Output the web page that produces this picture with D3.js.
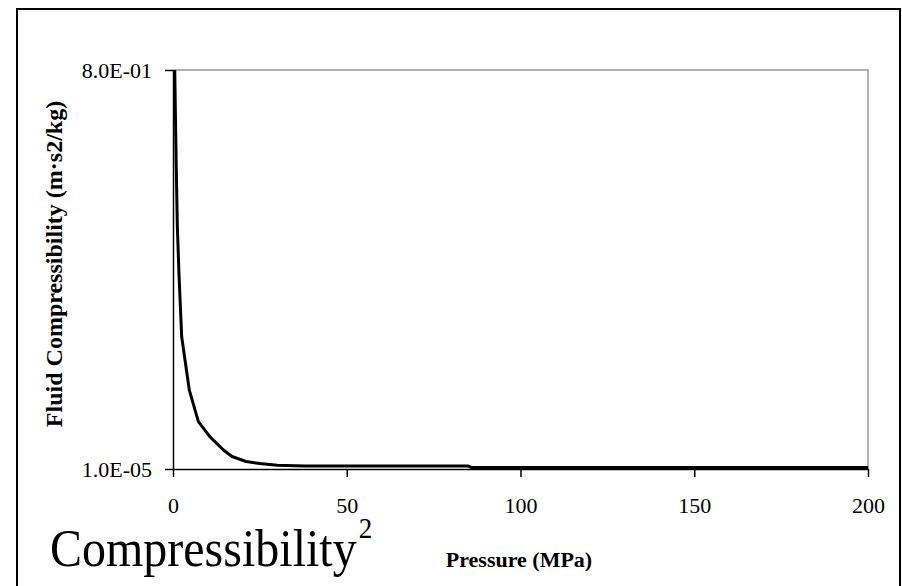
<!DOCTYPE html>
<html>
<head>
<meta charset="utf-8">
<script src="https://cdn.jsdelivr.net/npm/d3@7"></script>
<style>
  body { margin: 0; background: #fff; }
  text { font-family: "Times New Roman", "Liberation Serif", serif; fill: #000; }
</style>
</head>
<body>
<svg id="chart" width="902" height="586"></svg>
<script>
// pressure (MPa) vs fluid compressibility
var pressure = [0.5, 0.9, 1.25, 1.75, 2.5, 4.7, 7.3, 10.6, 14.5, 17, 21, 25, 30, 38, 85, 86, 200];
var compress = [0.8, 0.62, 0.486, 0.386, 0.265, 0.158, 0.095, 0.065, 0.038, 0.025, 0.015, 0.011, 0.0075, 0.006, 0.006, 0.003, 0.003];
var xTicks = [0, 50, 100, 150, 200];
var yTicks = [1e-5, 0.8];
var yTickLabels = ["1.0E-05", "8.0E-01"];

var margin = {top: 70, left: 173, right: 34, bottom: 117};
var width = 902, height = 586;
var w = width - margin.left - margin.right;
var h = height - margin.top - margin.bottom;

var data = pressure.map((p, i) => ({x: p, y: compress[i]}));

var svg = d3.select("#chart");

/* outer frame */
svg.append("rect")
    .attr("x", 17).attr("y", 9)
    .attr("width", 883).attr("height", 600)
    .attr("fill", "none")
    .attr("stroke", "#000")
    .attr("stroke-width", 2);

var g = svg.append("g")
    .attr("transform", "translate(" + margin.left + "," + margin.top + ")");

var xScale = d3.scaleLinear().domain([0, 200]).range([0, w]);
var yScale = d3.scaleLinear().domain([1e-5, 0.8]).range([h, 0]);

/* plot area border (top / right in gray) */
g.append("path")
    .attr("d", "M0,0H" + w + "V" + h)
    .attr("fill", "none")
    .attr("stroke", "#999")
    .attr("stroke-width", 1.5);

var xAx = g.append("g")
    .attr("transform", "translate(0," + h + ")")
    .call(d3.axisBottom(xScale).tickValues(xTicks).tickSize(8).tickSizeOuter(0).tickPadding(20));

var yAx = g.append("g")
    .call(d3.axisLeft(yScale).tickValues(yTicks)
        .tickFormat((d, i) => yTickLabels[i])
        .tickSize(8).tickSizeOuter(0).tickPadding(13));

[xAx, yAx].forEach(a => {
    a.attr("font-family", null).attr("font-size", null);
    a.selectAll("path.domain").attr("stroke", "#000").attr("stroke-width", 1.5);
    a.selectAll(".tick line").attr("stroke", "#000").attr("stroke-width", 1.5);
    a.selectAll(".tick text")
        .attr("fill", "#000")
        .style("font-family", '"Times New Roman", "Liberation Serif", serif')
        .style("font-size", "22px");
});

/* the curve */
var line = d3.line()
    .x(d => xScale(d.x))
    .y(d => yScale(d.y));

g.append("path")
    .datum(data)
    .attr("d", line)
    .attr("fill", "none")
    .attr("stroke", "#000")
    .attr("stroke-width", 3)
    .attr("stroke-linejoin", "round");

/* axis titles */
svg.append("text")
    .attr("text-anchor", "middle")
    .attr("font-weight", "bold")
    .attr("font-size", 24)
    .attr("transform", "translate(62,264) rotate(-90)")
    .text("Fluid Compressibility (m·s2/kg)");

svg.append("text")
    .attr("x", 519)
    .attr("y", 567)
    .attr("text-anchor", "middle")
    .attr("font-weight", "bold")
    .attr("font-size", 22)
    .text("Pressure (MPa)");

/* slide caption */
var cap = svg.append("text")
    .attr("transform", "translate(50,566) scale(1,1.12)")
    .attr("font-size", 48);
cap.append("tspan").text("Compressibility");
cap.append("tspan").attr("font-size", 27).attr("dx", 2).attr("dy", -25).text("2");
</script>
</body>
</html>
